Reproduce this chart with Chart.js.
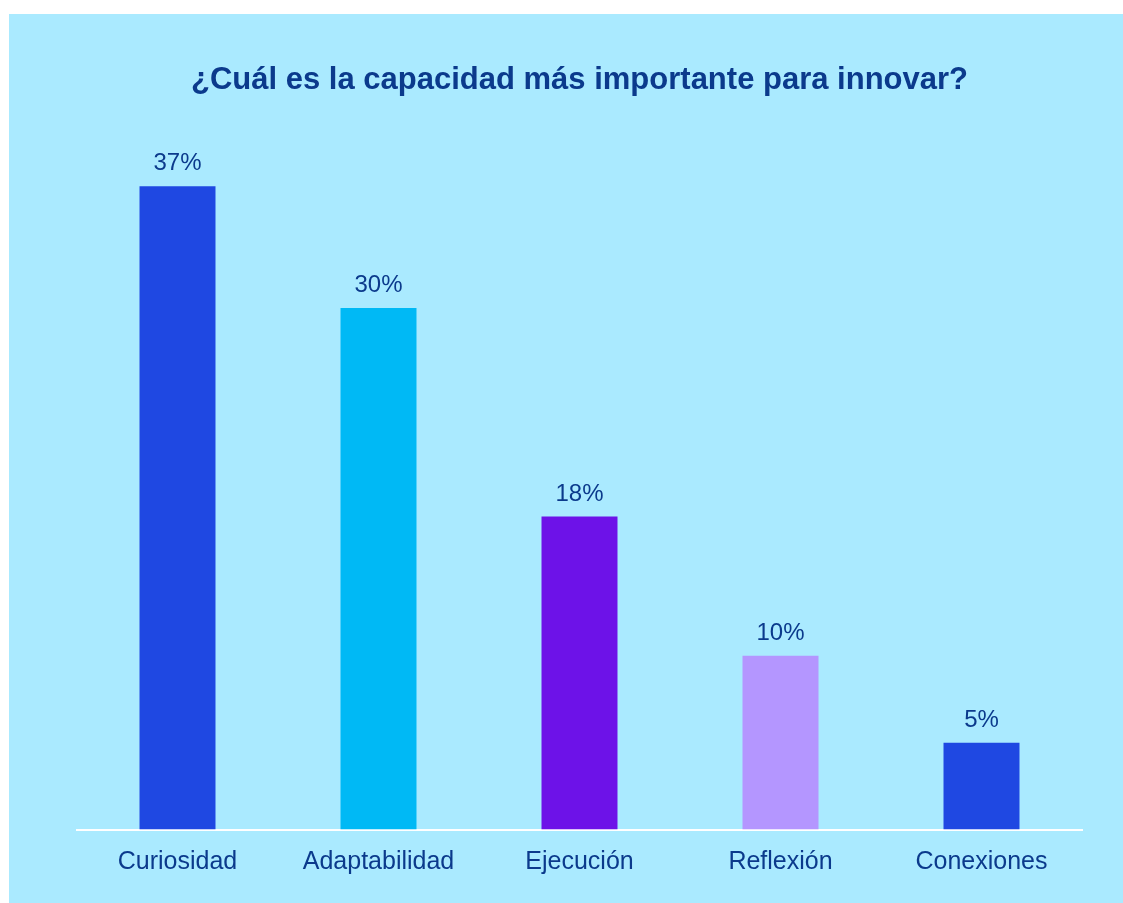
<!DOCTYPE html>
<html>
<head>
<meta charset="utf-8">
<script src="https://cdn.jsdelivr.net/npm/chart.js@4/dist/chart.umd.min.js"></script>
<style>
  html, body { margin: 0; padding: 0; background: #ffffff; }
  #panel {
    position: absolute; left: 9px; top: 14px;
    width: 1114px; height: 889px;
    background: #aaeaff;
  }
</style>
</head>
<body>
<div id="panel"><canvas id="chart" width="1114" height="889"></canvas></div>
<script>
const categories = ['Curiosidad', 'Adaptabilidad', 'Ejecución', 'Reflexión', 'Conexiones'];
const values = [37, 30, 18, 10, 5];
const barColors = ['#1f48e2', '#00b9f5', '#6d12e8', '#b496ff', '#1f48e2'];
const titleText = '¿Cuál es la capacidad más importante para innovar?';

const textColor = '#0b3a8c';

// value labels above each bar
const valueLabels = {
    id: 'valueLabels',
    afterDatasetsDraw(chart) {
        const ctx = chart.ctx;
        const meta = chart.getDatasetMeta(0);
        ctx.save();
        ctx.font = '24px "Liberation Sans", Arial, sans-serif';
        ctx.fillStyle = textColor;
        ctx.textAlign = 'center';
        ctx.textBaseline = 'alphabetic';
        meta.data.forEach((bar, i) => {
            ctx.fillText(values[i] + '%', bar.x, bar.y - 16);
        });
        ctx.restore();
    }
};

const ctx = document.getElementById('chart').getContext('2d');
new Chart(ctx, {
    type: 'bar',
    data: {
        labels: categories,
        datasets: [{
            data: values,
            backgroundColor: barColors,
            barPercentage: 0.378,
            categoryPercentage: 1
        }]
    },
    options: {
        responsive: false,
        animation: false,
        layout: {
            padding: { left: 68, right: 41, top: 47.4, bottom: 7.4 }
        },
        plugins: {
            legend: { display: false },
            tooltip: { enabled: false },
            title: {
                display: true,
                text: titleText,
                color: textColor,
                font: { family: '"Liberation Sans", Arial, sans-serif', size: 31, weight: 'bold', lineHeight: 1.2 },
                padding: { top: 0, bottom: 35.4 }
            }
        },
        scales: {
            x: {
                grid: { display: false, drawTicks: false },
                border: { display: true, color: '#ffffff', width: 2 },
                ticks: {
                    color: textColor,
                    padding: 18,
                    font: { family: '"Liberation Sans", Arial, sans-serif', size: 25 }
                }
            },
            y: {
                display: false,
                min: 0,
                max: 40
            }
        }
    },
    plugins: [valueLabels]
});
</script>
</body>
</html>
